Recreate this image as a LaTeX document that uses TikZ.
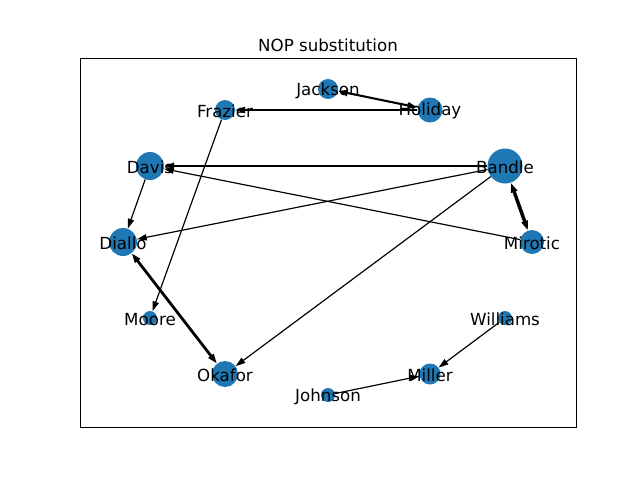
\documentclass[tikz,border=0pt]{standalone}
\usepackage{fontspec}
\setmainfont{DejaVu Sans}
\usetikzlibrary{arrows.meta}
\definecolor{mblue}{HTML}{1F77B4}
\begin{document}
\begin{tikzpicture}[x=0.72pt,y=-0.72pt,
  dot/.style={circle,fill=mblue,draw=none,inner sep=0pt,minimum size=#1*1.44pt},
  lbl/.style={font=\fontsize{12}{14}\selectfont,inner sep=0pt,yshift=-1pt},
  edge/.style={draw=black,line width=0.85pt,-{Triangle[length=7pt,width=4.5pt]}},
  thk/.style={line width=#1pt},
  bidir/.style={draw=black,{Triangle[length=7pt,width=4.5pt]}-{Triangle[length=7pt,width=4.5pt]}}]
\useasboundingbox (0,0) rectangle (640,480);
\draw[line width=0.6pt] (80,58) rectangle (576,427);
\node[lbl] (title) at (328,44) {NOP substitution};
% nodes
\node[dot=10] (Jackson) at (328,89) {};
\node[dot=12.5] (Holiday) at (430,110) {};
\node[dot=10] (Frazier) at (225,110) {};
\node[dot=14] (Davis) at (150,166) {};
\node[dot=17.5] (Bandle) at (505,166) {};
\node[dot=14] (Diallo) at (123,242) {};
\node[dot=12] (Mirotic) at (532,242) {};
\node[dot=7] (Moore) at (150,318) {};
\node[dot=7] (Williams) at (505,318) {};
\node[dot=13] (Okafor) at (225,374) {};
\node[dot=10.5] (Miller) at (430,374) {};
\node[dot=7] (Johnson) at (328,395) {};
% edges
\draw[bidir,thk=1.5] (Holiday) -- (Jackson);
\draw[edge] (Holiday) -- (Frazier);
\draw[edge] (Frazier) -- (Moore);
\draw[edge,thk=1.6] (Bandle) -- (Davis);
\draw[edge] (Mirotic) -- (Davis);
\draw[edge] (Davis) -- (Diallo);
\draw[edge] (Bandle) -- (Diallo);
\draw[bidir,thk=2.5] (Bandle) -- (Mirotic);
\draw[edge] (Bandle) -- (Okafor);
\draw[bidir,thk=2.0] (Diallo) -- (Okafor);
\draw[edge] (Williams) -- (Miller);
\draw[edge] (Johnson) -- (Miller);
% labels
\node[lbl] (lJackson) at (Jackson) {Jackson};
\node[lbl] (lHoliday) at (Holiday) {Holiday};
\node[lbl] (lFrazier) at (Frazier) {Frazier};
\node[lbl] (lDavis) at (Davis) {Davis};
\node[lbl] (lBandle) at (Bandle) {Bandle};
\node[lbl] (lDiallo) at (Diallo) {Diallo};
\node[lbl] (lMirotic) at (Mirotic) {Mirotic};
\node[lbl] (lMoore) at (Moore) {Moore};
\node[lbl] (lWilliams) at (Williams) {Williams};
\node[lbl] (lOkafor) at (Okafor) {Okafor};
\node[lbl] (lMiller) at (Miller) {Miller};
\node[lbl] (lJohnson) at (Johnson) {Johnson};
\end{tikzpicture}
\end{document}
